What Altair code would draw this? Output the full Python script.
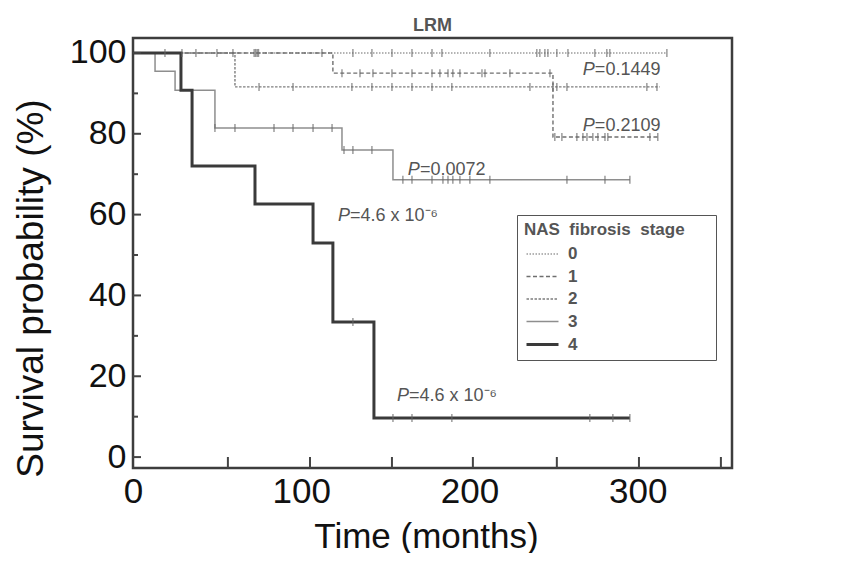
import altair as alt
import pandas as pd

# ---------------- data ----------------
stages = ["0", "1", "2", "3", "4"]

# Kaplan-Meier step points (time in months, survival %)
s0_t = [0, 317.3]
s0_s = [100, 100]
s1_t = [0, 118.8, 249.6, 313.0]
s1_s = [100, 95.0, 79.2, 79.2]
s2_t = [0, 60.6, 313.0]
s2_s = [100, 91.6, 91.6]
s3_t = [0, 13.1, 25.0, 48.7, 124.2, 154.5, 295.3]
s3_s = [100, 95.5, 90.8, 81.4, 76.0, 68.6, 68.6]
s4_t = [0, 28.5, 35.1, 72.5, 107.0, 118.8, 143.2, 295.3]
s4_s = [100, 90.8, 72.0, 62.6, 53.0, 33.4, 9.7, 9.7]

# censor marks (time in months)
c0_t = [19.0, 29.1, 37.4, 49.9, 59.4, 72.0, 72.9, 73.8, 74.6, 112.3, 130.7, 142.0,
        153.9, 165.8, 177.7, 183.6, 212.1, 240.0, 241.8, 244.8, 246.6, 251.9, 258.5,
        274.5, 281.6, 283.4, 317.3]
c1_t = [124.2, 134.9, 142.6, 153.9, 165.8, 177.7, 182.4, 187.2, 190.1, 194.3, 207.4,
        209.2, 224.0, 247.8, 250.7, 254.9, 263.8, 267.4, 269.8, 273.3, 276.3, 280.5,
        282.2, 307.2, 311.9]
c2_t = [74.9, 95.1, 130.1, 142.0, 153.9, 165.8, 177.7, 189.5, 235.9, 249.6, 251.9,
        257.9, 305.4, 311.4]
c3_t = [48.7, 60.6, 83.8, 95.1, 107.0, 118.3, 125.4, 130.7, 142.0, 160.4, 165.8, 177.7,
        184.2, 187.2, 190.1, 194.3, 200.2, 212.1, 257.9, 280.5, 295.3]
c4_t = [130.7, 154.5, 165.8, 189.5, 271.5, 285.2, 295.3]

# p-value annotations
ann_t = [274.5, 274.5, 170.5, 129.0, 164.0]
ann_s = [95.8, 81.9, 71.0, 59.7, 15.1]
ann_txt = ["=0.1449", "=0.2109", "=0.0072", "=4.6 x 10\u207b\u2076", "=4.6 x 10\u207b\u2076"]

# axis tick positions
x_labels = [0, 100, 200, 300]
x_inner_ticks = [56.4, 105.2, 153.9, 202.0, 251.9, 300.7, 349.4]
y_major = [0, 20, 40, 60, 80, 100]
y_minor = [10, 30, 50, 70, 90]

# ---------------- tables ----------------
curves = [(s0_t, s0_s), (s1_t, s1_s), (s2_t, s2_s), (s3_t, s3_s), (s4_t, s4_s)]
cens = [c0_t, c1_t, c2_t, c3_t, c4_t]

rows = []
for st, (ts, ss) in zip(stages, curves):
    for i, (t, s) in enumerate(zip(ts, ss)):
        rows.append({"stage": st, "time": t, "surv": s, "i": i})
lines_df = pd.DataFrame(rows)


def km_at(ts, ss, t):
    v = ss[0]
    for tt, s in zip(ts, ss):
        if tt <= t + 1e-9:
            v = s
    return v


crow = []
for st, (ts, ss), ct in zip(stages, curves, cens):
    for t in ct:
        crow.append({"grp": st, "time": t, "surv": km_at(ts, ss, t)})
cens_df = pd.DataFrame(crow)

ann_df = pd.DataFrame({"time": ann_t, "surv": ann_s, "txt": ann_txt})

FONT = "Liberation Sans"
X_SCALE = alt.Scale(domain=[0, 356], nice=False, zero=False)
Y_SCALE = alt.Scale(domain=[-2.7, 103.7], nice=False, zero=False)

colors = ["#9c9c9c", "#6f6f6f", "#7d7d7d", "#8e8e8e", "#3a3a3a"]
dashes = [[1.5, 1.5], [4, 2.5], [2.5, 1.5], [1, 0], [1, 0]]
widths = [1.4, 1.4, 1.4, 1.5, 3.0]
LEG_TITLE = "NAS\u00a0\u00a0fibrosis\u00a0\u00a0stage\u2800\u2800"

x_axis = alt.Axis(values=x_labels, title="Time (months)", ticks=False,
                  domain=False, grid=False, labelFontSize=35, labelFont=FONT,
                  labelColor="#111", labelPadding=6, titleFont=FONT, titleFontSize=35,
                  titleFontWeight="normal", titleColor="#111", titleX=293, titleY=79,
                  titleAlign="center", titleBaseline="alphabetic", labelFlush=False,
                  labelOverlap=False, format="d")
y_axis = alt.Axis(values=y_major, title="Survival probability (%)", ticks=False,
                  domain=False, grid=False, labelFontSize=34, labelFont=FONT,
                  labelColor="#111", labelPadding=7, titleFont=FONT, titleFontSize=37,
                  titleFontWeight="normal", titleColor="#111", titleX=-102, titleY=250,
                  titleAlign="center", titleBaseline="middle", labelFlush=False,
                  labelOverlap=False, format="d")

lines = alt.Chart(lines_df).mark_line(interpolate="step-after").encode(
    x=alt.X("time:Q", scale=X_SCALE, axis=x_axis),
    y=alt.Y("surv:Q", scale=Y_SCALE, axis=y_axis),
    color=alt.Color("stage:N", scale=alt.Scale(domain=stages, range=colors),
                    title=LEG_TITLE),
    strokeDash=alt.StrokeDash("stage:N", scale=alt.Scale(domain=stages, range=dashes),
                              title=LEG_TITLE),
    strokeWidth=alt.StrokeWidth("stage:N",
                                scale=alt.Scale(type="ordinal", domain=stages, range=widths),
                                title=LEG_TITLE),
    order="i:Q",
)

ticks = alt.Chart(cens_df).mark_tick(orient="vertical", size=8, thickness=1.4,
                                     color="#666").encode(
    x=alt.X("time:Q", scale=X_SCALE),
    y=alt.Y("surv:Q", scale=Y_SCALE),
    detail="grp:N",
)

p_italic = alt.Chart(ann_df).mark_text(text="P", align="right", baseline="middle",
                                       fontStyle="italic", fontSize=18, font=FONT,
                                       color="#555").encode(
    x=alt.X("time:Q", scale=X_SCALE),
    y=alt.Y("surv:Q", scale=Y_SCALE),
)
p_rest = alt.Chart(ann_df).mark_text(align="left", baseline="middle", fontSize=18,
                                     font=FONT, color="#555").encode(
    x=alt.X("time:Q", scale=X_SCALE),
    y=alt.Y("surv:Q", scale=Y_SCALE),
    text="txt:N",
)

ymaj_df = pd.DataFrame({"time": [0] * len(y_major), "surv": y_major})
ymin_df = pd.DataFrame({"time": [0] * len(y_minor), "surv": y_minor})
xt_df = pd.DataFrame({"time": x_inner_ticks})

ymaj = alt.Chart(ymaj_df).mark_rule(color="#444", strokeWidth=2).encode(
    y=alt.Y("surv:Q", scale=Y_SCALE), x=alt.value(0), x2=alt.value(8))
ymin = alt.Chart(ymin_df).mark_rule(color="#444", strokeWidth=2).encode(
    y=alt.Y("surv:Q", scale=Y_SCALE), x=alt.value(0), x2=alt.value(5))
xt = alt.Chart(xt_df).mark_rule(color="#444", strokeWidth=2).encode(
    x=alt.X("time:Q", scale=X_SCALE), y=alt.value(430), y2=alt.value(419))

chart = alt.layer(lines, ticks, p_italic, p_rest, ymaj, ymin, xt).properties(
    width=599, height=430,
    title=alt.Title("LRM", fontSize=18, fontWeight="bold", color="#555", font=FONT,
                    offset=1, anchor="middle"),
    autosize=alt.AutoSizeParams(type="none"),
    padding={"left": 125, "top": 30, "right": 100, "bottom": 85},
).configure_view(
    stroke="#3d3d3d", strokeWidth=2.5
).configure_legend(
    orient="none", legendX=384, legendY=177, strokeColor="#555", padding=7,
    titleFontSize=17, titleFontWeight="bold", titleColor="#555", titleFont=FONT,
    titleLimit=400,
    labelFontSize=17, labelFontWeight="bold", labelColor="#555", labelFont=FONT,
    symbolType="M-1.6,0H1.6", symbolSize=400, symbolOffset=7, labelOffset=14,
    rowPadding=3.5, titlePadding=4, cornerRadius=0, fillColor="white"
)

chart.save("out.html", embed_options={"renderer": "svg", "actions": False})
